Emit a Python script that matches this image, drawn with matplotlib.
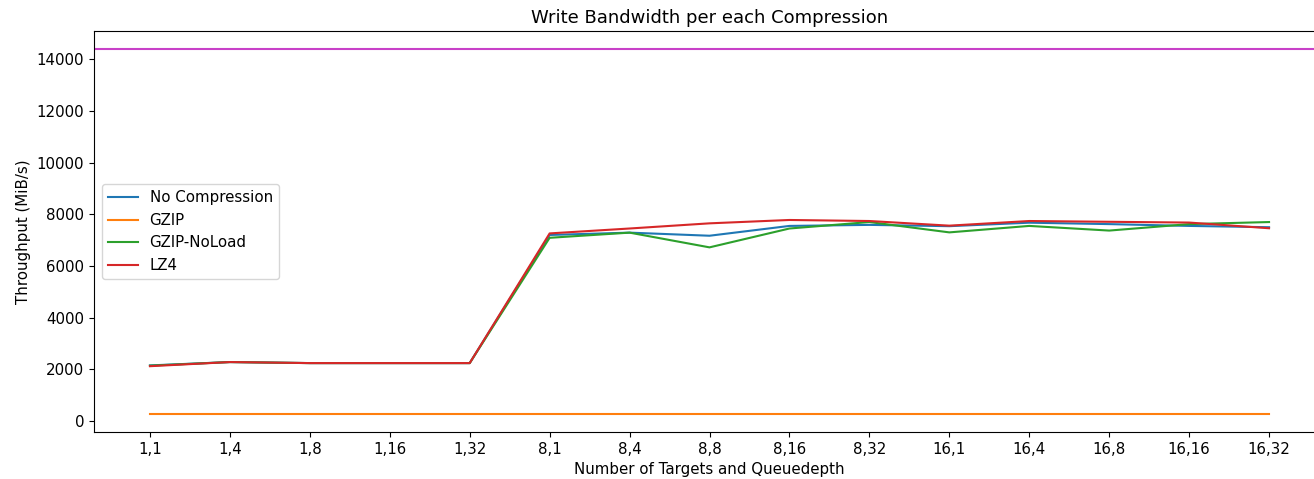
import matplotlib
matplotlib.use("Agg")
import matplotlib.pyplot as plt

categories = ["1,1", "1,4", "1,8", "1,16", "1,32", "8,1", "8,4", "8,8", "8,16",
              "8,32", "16,1", "16,4", "16,8", "16,16", "16,32"]
no_compression = [2150, 2280, 2240, 2240, 2240, 7200, 7290, 7170, 7550, 7590,
                  7540, 7675, 7620, 7550, 7500]
gzip = [278] * 15
gzip_noload = [2140, 2280, 2240, 2240, 2240, 7090, 7290, 6720, 7450, 7700,
               7300, 7550, 7370, 7620, 7700]
lz4 = [2120, 2280, 2240, 2240, 2240, 7260, 7450, 7650, 7780, 7740,
       7560, 7740, 7710, 7680, 7460]
max_bandwidth = 14390

plt.rcParams["font.size"] = 10.8
fig = plt.figure(figsize=(13.14, 4.79), dpi=100)
ax = fig.add_axes([94 / 1314, 1 - 432 / 479, (1325 - 94) / 1314, (432 - 31) / 479])
x = list(range(len(categories)))
ax.plot(x, no_compression, label="No Compression")
ax.plot(x, gzip, label="GZIP")
ax.plot(x, gzip_noload, label="GZIP-NoLoad")
ax.plot(x, lz4, label="LZ4")
ax.axhline(max_bandwidth, color="#c840c8")
ax.set_xticks(x)
ax.set_xticklabels(categories)
ax.set_xlabel("Number of Targets and Queuedepth")
ax.set_ylabel("Throughput (MiB/s)")
ax.set_title("Write Bandwidth per each Compression")
ax.legend(loc="center left")
fig.savefig("out.png", dpi=100)
